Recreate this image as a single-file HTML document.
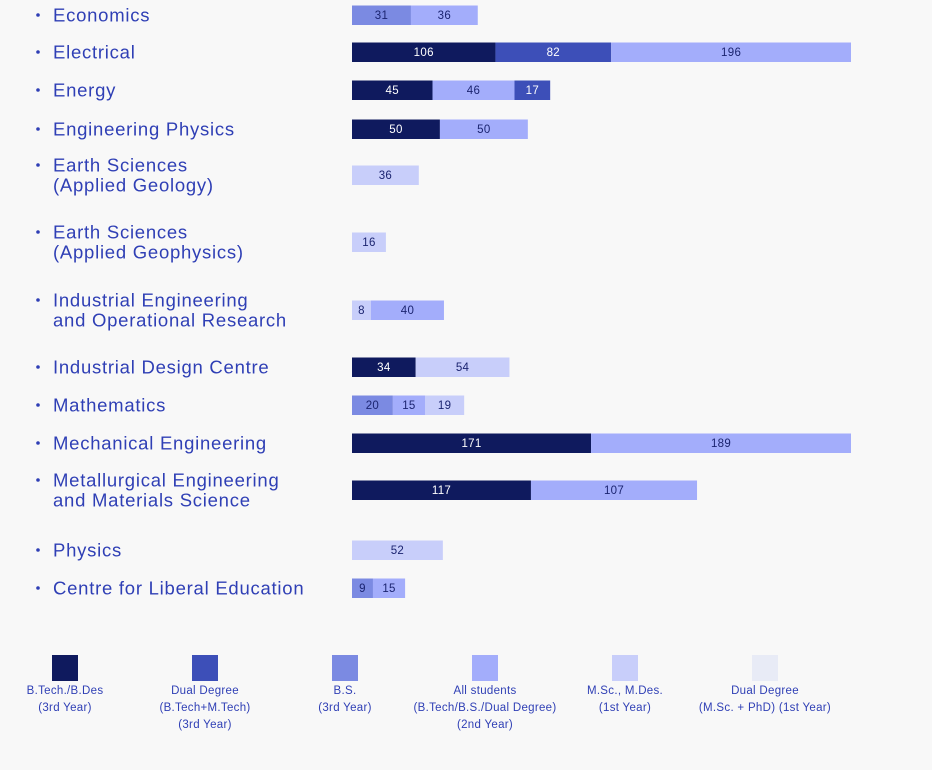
<!DOCTYPE html>
<html><head><meta charset="utf-8"><style>
body{margin:0;background:#f8f8f8;width:932px;height:770px;overflow:hidden;font-family:"Liberation Sans",sans-serif;}
svg{display:block}
</style></head><body>
<svg id="chart" width="932" height="770"></svg>
<script>
const categories=["Economics","Electrical","Energy","Engineering Physics","Earth Sciences|(Applied Geology)","Earth Sciences|(Applied Geophysics)","Industrial Engineering|and Operational Research","Industrial Design Centre","Mathematics","Mechanical Engineering","Metallurgical Engineering|and Materials Science","Physics","Centre for Liberal Education"];
const rowCenters=[15,52,90,129,175,242,310,367,405,443,490,550,588];
const segValues=[[31,36],[106,82,196],[45,46,17],[50,50],[36],[16],[8,40],[34,54],[20,15,19],[171,189],[117,107],[52],[9,15]];
const segSeries=[[2,3],[0,1,3],[0,3,1],[0,3],[4],[4],[4,3],[0,4],[2,3,4],[0,3],[0,3],[4],[2,3]];
const seriesNames=["B.Tech./B.Des|(3rd Year)","Dual Degree|(B.Tech+M.Tech)|(3rd Year)","B.S.|(3rd Year)","All students|(B.Tech/B.S./Dual Degree)|(2nd Year)","M.Sc., M.Des.|(1st Year)","Dual Degree|(M.Sc. + PhD) (1st Year)"];
const colors=["#0f1a5e","#3d4fb8","#7b8ae2","#a3adfb","#c8cefa","#e8ebf6"];
const NS="http://www.w3.org/2000/svg";
const svg=document.getElementById('chart');
const X0=352,MAXW=499,TEXT="#2f3fb5";
function xs(v){return 3.34*Math.pow(v,0.836);}
function mk(t,a){const e=document.createElementNS(NS,t);for(const k in a)e.setAttribute(k,a[k]);svg.appendChild(e);return e;}
categories.forEach((c,i)=>{
  const lines=c.split('|');const cy=rowCenters[i];
  const top=cy-(lines.length-1)*10;
  const b=mk('circle',{cx:38,cy:top,r:1.8,fill:TEXT});
  
  
  const t=mk('text',{x:53,y:top+6.5,fill:TEXT,'font-size':18.5,'letter-spacing':0.75});
  
  
  lines.forEach((l,j)=>{const s=document.createElementNS(NS,'tspan');s.setAttribute('x',53);if(j>0)s.setAttribute('dy',20);s.textContent=l;t.appendChild(s);});
  let ws=segValues[i].map(xs);const tot=ws.reduce((a,b)=>a+b,0);
  if(tot>MAXW)ws=ws.map(w=>w*MAXW/tot);
  let x=X0;
  segValues[i].forEach((v,j)=>{
    const si=segSeries[i][j];
    const r=mk('rect',{x:x,y:cy-9.5,width:ws[j],height:19.5,fill:colors[si]});
    
    
    const lt=mk('text',{x:x+ws[j]/2,y:cy+4,'text-anchor':'middle','font-size':11.5,'letter-spacing':0.3,fill:si<2?'#ffffff':'#1b2470'});
    
    
    lt.textContent=v;
    x+=ws[j];
  });
});
seriesNames.forEach((n,i)=>{
  const cx=65+i*140;
  const r=mk('rect',{x:cx-13,y:655,width:26,height:26,fill:colors[i]});
  
  
  n.split('|').forEach((l,j)=>{
    const t=mk('text',{x:cx,y:694+j*17,'text-anchor':'middle','font-size':11.5,'letter-spacing':0.3,fill:TEXT});
    
    
    t.textContent=l;
  });
});
</script>
</body></html>
